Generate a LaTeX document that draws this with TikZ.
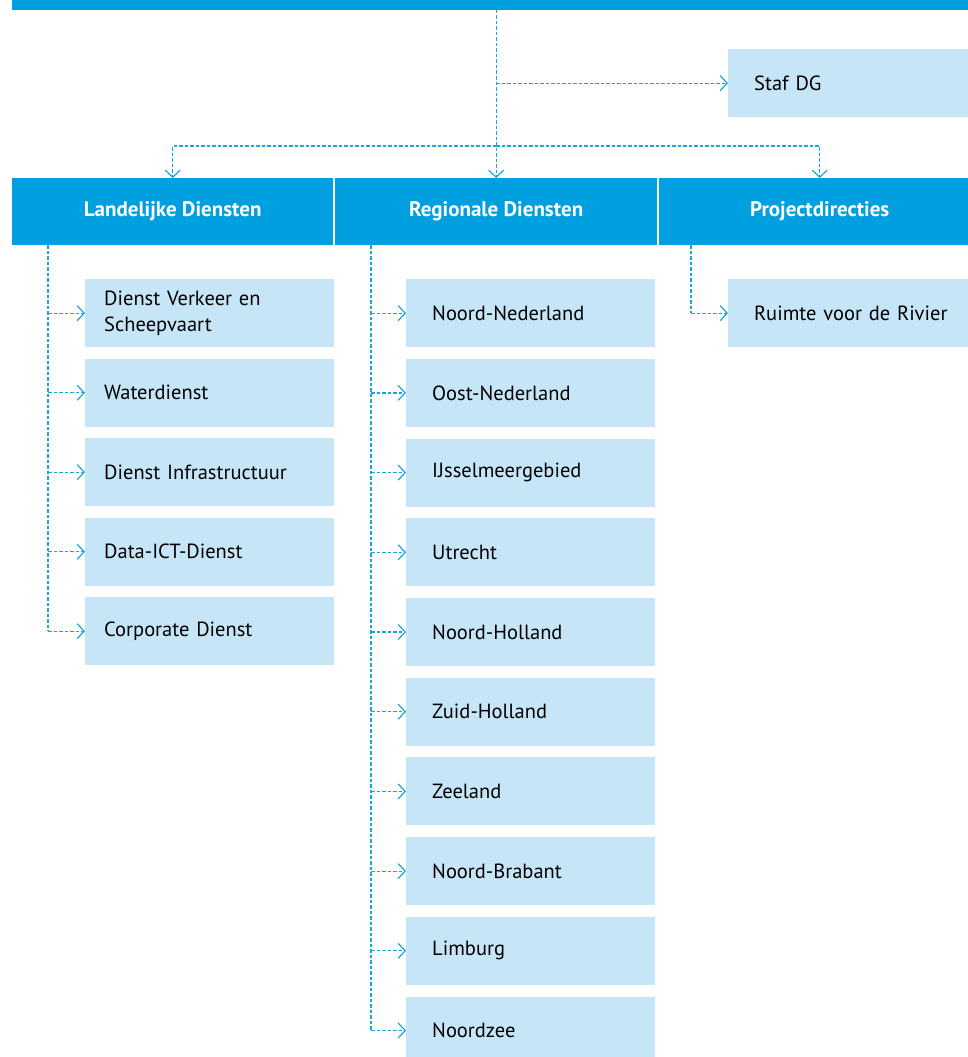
\documentclass[tikz,border=0pt]{standalone}
\usepackage{fontspec}
\setmainfont{PT Sans}
\usepackage{tikz}
\usetikzlibrary{arrows.meta,positioning}
\definecolor{bar}{HTML}{009FDF}
\definecolor{unitfill}{HTML}{C6E6F7}
\definecolor{wire}{HTML}{1BA5E0}
\tikzset{
  txt/.style={font=\fontsize{20.5}{26}\selectfont, text=black},
  head/.style={fill=bar, text=white, font=\fontsize{21}{26}\selectfont\bfseries,
    minimum width=321pt, minimum height=67pt, inner sep=0pt, anchor=north west},
  unit/.style={txt, fill=unitfill, minimum height=68pt, align=left, anchor=north west},
  lunit/.style={unit, inner xsep=19pt, text width=211pt},
  runit/.style={unit, inner xsep=26pt, text width=197pt},
  punit/.style={unit, inner xsep=26pt, text width=200pt},
  wire/.style={draw=wire, line width=1.2pt, dash pattern=on 3.5pt off 2pt},
  link/.style={wire, -{Straight Barb[length=7pt,width=15pt]}},
}

\begin{document}
\begin{tikzpicture}[x=1pt,y=-1pt]
  \useasboundingbox (0,0) rectangle (968,1057);
  \node[fill=bar, minimum width=956pt, minimum height=10pt, inner sep=0pt,
    anchor=south west] (top) at (12,10) {};
  \node[punit] (staf) at (728,49) {Staf DG};
  \node[head] (land) at (12,178) {Landelijke Diensten};
  \node[head, minimum width=322pt] (reg) at (335,178) {Regionale Diensten};
  \node[head] (proj) at (659,178) {Projectdirecties};
  \coordinate (split) at (reg.north |- 0,146);
  \draw[link] (top.south -| reg.north) -- (reg.north);
  \draw[link] (reg.north |- staf.west) -- (staf.west);
  \draw[link] (split) -| (land.north);
  \draw[link] (split) -| (proj.north);

  \coordinate (lroot) at (48,245);
  \foreach \name [count=\i] in {{Dienst Verkeer en\\Scheepvaart},Waterdienst,
      Dienst Infrastructuur,Data-ICT-Dienst,Corporate Dienst}{
    \node[lunit] (l\i) at (85,{279+79.5*(\i-1)}) {\name};
    \draw[link] (lroot |- l\i.west) -- (l\i.west);
  }
  \draw[wire] (lroot) -- (lroot |- l5.west);

  \coordinate (rroot) at (371,245);
  \foreach \name [count=\i] in {Noord-Nederland,Oost-Nederland,IJsselmeergebied,
      Utrecht,Noord-Holland,Zuid-Holland,Zeeland,Noord-Brabant,Limburg,Noordzee}{
    \node[runit] (r\i) at (406,{279+79.7*(\i-1)}) {\name};
    \draw[link] (rroot |- r\i.west) -- (r\i.west);
  }
  \draw[wire] (rroot) -- (rroot |- r10.west);

  \coordinate (proot) at (691,245);
  \node[punit] (p1) at (728,279) {Ruimte voor de Rivier};
  \draw[wire] (proot) -- (proot |- p1.west);
  \draw[link] (proot |- p1.west) -- (p1.west);
\end{tikzpicture}
\end{document}
